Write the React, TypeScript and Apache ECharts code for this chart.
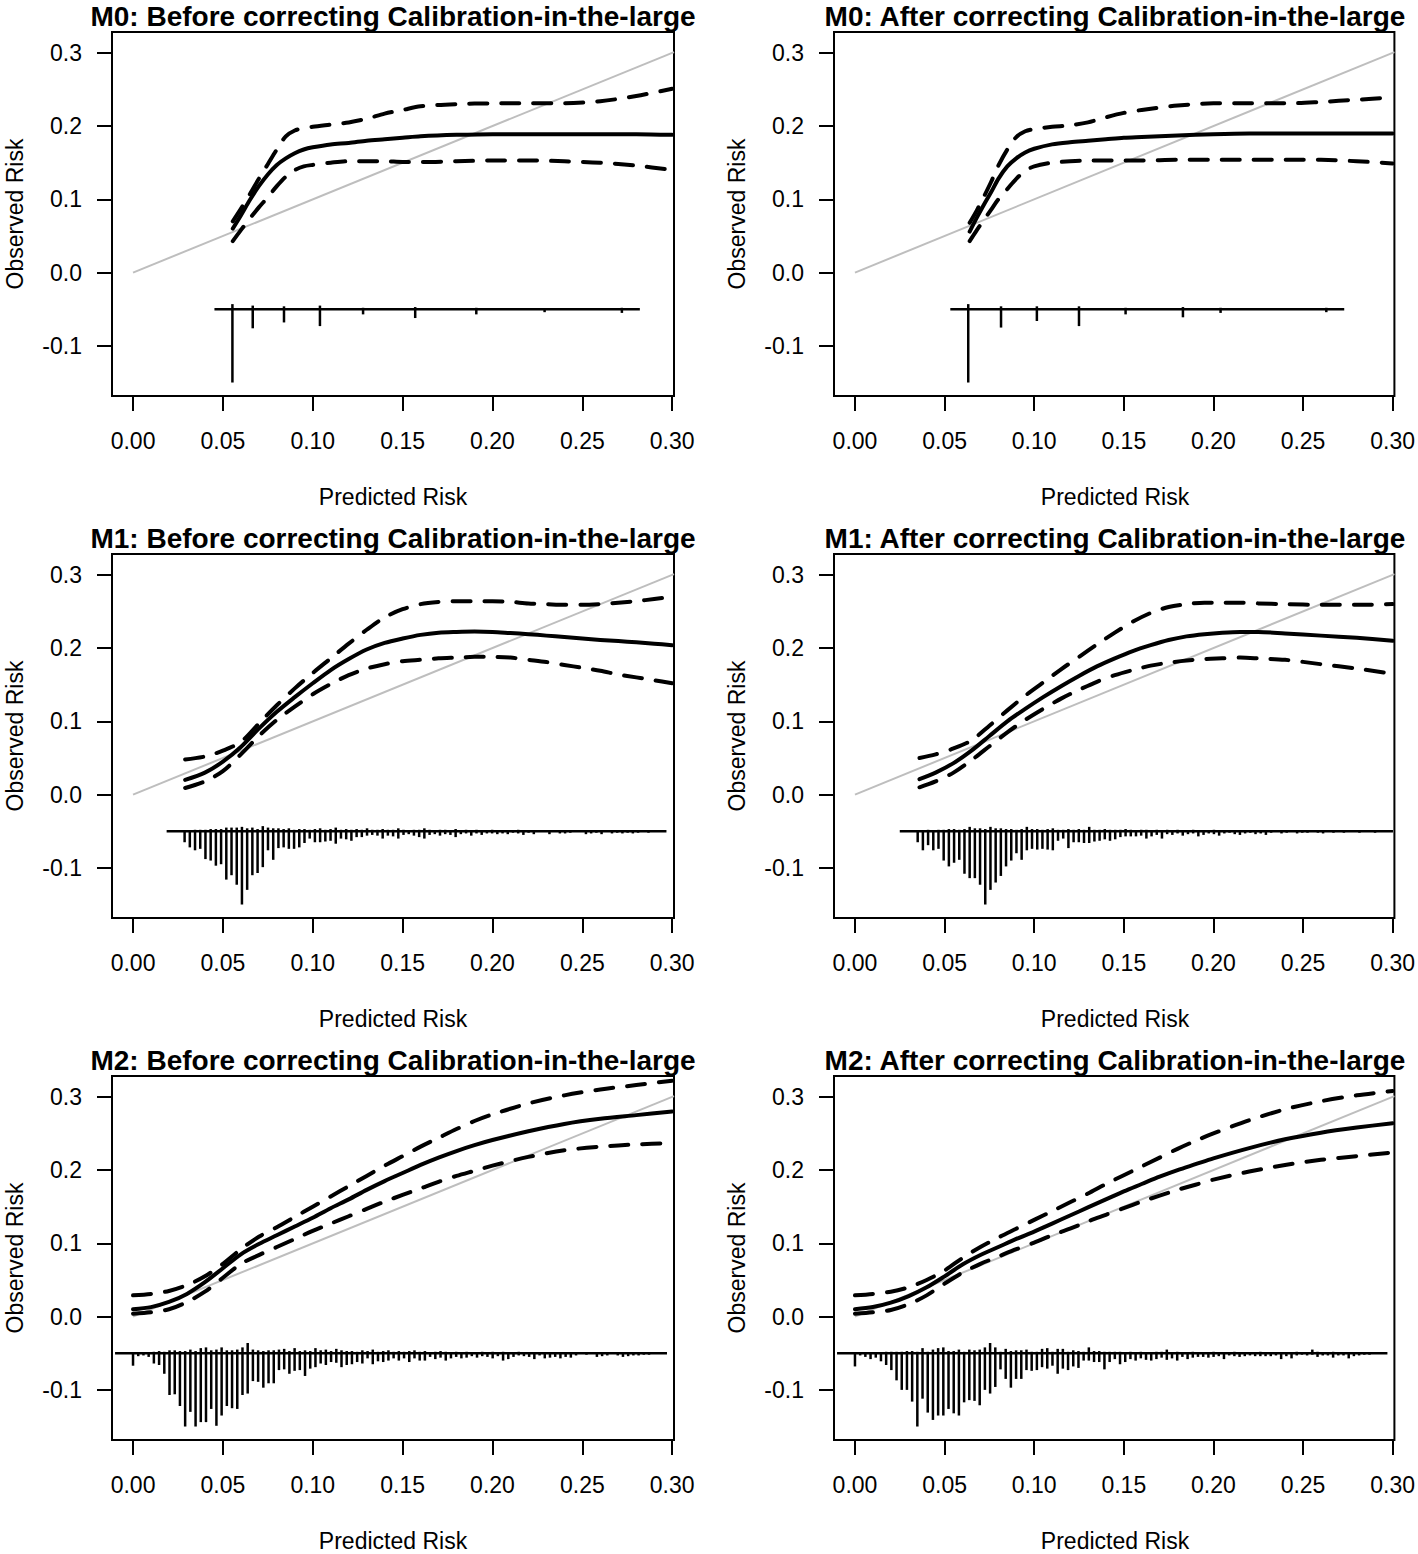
import React, { useEffect, useRef } from "react";
import * as echarts from "echarts";

const FONT = '"Liberation Sans", Arial, Helvetica, sans-serif';

// ---------- axes ----------
const X_TICKS = [0, 0.05, 0.1, 0.15, 0.2, 0.25, 0.3];
const Y_TICKS = [-0.1, 0, 0.1, 0.2, 0.3];
const X_MIN = -0.0117;
const X_MAX = 0.301;
const Y_MIN = -0.1684;
const Y_MAX = 0.3284;
const SPIKE_BASE = -0.05;
const SPIKE_MAX = 0.1;
const BIN_STEP = 0.0029;

const TITLES = [
  "M0: Before correcting Calibration-in-the-large",
  "M0: After correcting Calibration-in-the-large",
  "M1: Before correcting Calibration-in-the-large",
  "M1: After correcting Calibration-in-the-large",
  "M2: Before correcting Calibration-in-the-large",
  "M2: After correcting Calibration-in-the-large",
];
const X_NAME = "Predicted Risk";
const Y_NAME = "Observed Risk";
const IDEAL = [[0, 0], [0.301, 0.301]];

// ---------- M0 before ----------
const m0BeforeX = [0.0555, 0.06, 0.065, 0.07, 0.075, 0.08, 0.085, 0.09, 0.095, 0.1, 0.11, 0.12, 0.13, 0.14, 0.15, 0.16, 0.18, 0.2, 0.22, 0.24, 0.26, 0.28, 0.3];
const m0BeforeFit = [0.06, 0.078, 0.099, 0.118, 0.134, 0.147, 0.156, 0.163, 0.168, 0.171, 0.175, 0.177, 0.18, 0.182, 0.184, 0.186, 0.188, 0.189, 0.189, 0.189, 0.189, 0.189, 0.188];
const m0BeforeUpper = [0.07, 0.087, 0.107, 0.128, 0.148, 0.168, 0.186, 0.194, 0.197, 0.199, 0.202, 0.205, 0.21, 0.217, 0.222, 0.227, 0.23, 0.231, 0.231, 0.231, 0.234, 0.241, 0.251];
const m0BeforeLower = [0.043, 0.058, 0.074, 0.089, 0.103, 0.118, 0.131, 0.14, 0.145, 0.147, 0.15, 0.152, 0.152, 0.152, 0.151, 0.151, 0.152, 0.153, 0.153, 0.152, 0.15, 0.146, 0.14];
const m0BeforeSpikeX = [0.0553, 0.0666, 0.084, 0.104, 0.128, 0.157, 0.191, 0.229, 0.272];
const m0BeforeDown = [100, 26, 18, 23, 7, 12, 7, 4, 5];
const m0BeforeUp = [7, 5, 4, 5, 2, 3, 2, 1, 2];

// ---------- M0 after ----------
const m0AfterX = [0.064, 0.068, 0.072, 0.076, 0.08, 0.085, 0.09, 0.095, 0.1, 0.11, 0.12, 0.13, 0.14, 0.15, 0.16, 0.18, 0.2, 0.22, 0.24, 0.26, 0.28, 0.3];
const m0AfterFit = [0.056, 0.075, 0.093, 0.11, 0.128, 0.145, 0.156, 0.164, 0.169, 0.175, 0.178, 0.18, 0.182, 0.184, 0.185, 0.187, 0.189, 0.19, 0.19, 0.19, 0.19, 0.19];
const m0AfterUpper = [0.068, 0.085, 0.104, 0.124, 0.146, 0.168, 0.185, 0.193, 0.196, 0.199, 0.201, 0.205, 0.212, 0.218, 0.222, 0.228, 0.231, 0.231, 0.231, 0.233, 0.236, 0.239];
const m0AfterLower = [0.043, 0.058, 0.072, 0.086, 0.1, 0.114, 0.128, 0.139, 0.145, 0.15, 0.152, 0.153, 0.153, 0.153, 0.153, 0.154, 0.154, 0.154, 0.154, 0.154, 0.152, 0.149];
const m0AfterSpikeX = [0.0632, 0.0815, 0.1015, 0.125, 0.151, 0.183, 0.204, 0.263];
const m0AfterDown = [100, 25, 16, 23, 7, 11, 5, 4];
const m0AfterUp = [7, 4, 4, 4, 2, 3, 2, 2];

// ---------- M1 before ----------
const m1BeforeX = [0.029, 0.04, 0.05, 0.06, 0.07, 0.08, 0.09, 0.1, 0.11, 0.12, 0.13, 0.14, 0.15, 0.16, 0.17, 0.18, 0.19, 0.2, 0.21, 0.22, 0.23, 0.24, 0.25, 0.26, 0.27, 0.28, 0.29, 0.3];
const m1BeforeFit = [0.02, 0.03, 0.045, 0.065, 0.09, 0.113, 0.133, 0.152, 0.17, 0.185, 0.198, 0.207, 0.213, 0.218, 0.221, 0.222, 0.2225, 0.222, 0.2205, 0.219, 0.217, 0.215, 0.213, 0.211, 0.2095, 0.208, 0.206, 0.204];
const m1BeforeUpper = [0.048, 0.052, 0.06, 0.072, 0.097, 0.122, 0.145, 0.166, 0.186, 0.206, 0.225, 0.242, 0.253, 0.26, 0.263, 0.264, 0.264, 0.264, 0.263, 0.261, 0.26, 0.259, 0.259, 0.26, 0.262, 0.264, 0.267, 0.27];
const m1BeforeLower = [0.009, 0.018, 0.032, 0.055, 0.08, 0.102, 0.12, 0.137, 0.151, 0.163, 0.172, 0.178, 0.182, 0.184, 0.186, 0.187, 0.188, 0.188, 0.187, 0.184, 0.181, 0.177, 0.173, 0.169, 0.164, 0.16, 0.156, 0.152];
const m1BeforeFirstBin = 0.0287;
const m1BeforeDown = [15, 22, 26, 24, 38, 40, 47, 45, 66, 60, 73, 100, 80, 60, 57, 49, 26, 39, 23, 22, 24, 24, 22, 16, 10, 15, 15, 14, 13, 17, 10, 11, 13, 8, 8, 6, 5, 6, 10, 6, 7, 10,
  5, 4, 6, 8, 10, 5, 4, 6, 4, 5, 8, 4, 3, 6, 3, 5, 3, 3, 4, 3, 4, 2, 3, 5, 2, 4, 0, 0, 4, 0, 3, 3, 2, 0, 0, 4, 3, 2, 4, 0, 3, 2, 3, 2, 3, 2, 0, 2];
const m1BeforeUp = [0, 1, 2, 2, 2, 3, 3, 3, 5, 5, 5, 6, 4, 5, 3, 7, 5, 4, 4, 3, 4, 2, 3, 3, 2, 3, 4, 2, 3, 5, 2, 3, 2, 3, 2, 4, 2, 2, 3, 2, 2, 4, 2, 1, 2, 2, 4, 2, 1, 2, 2, 1, 3, 1, 2, 1, 2, 1, 1, 2, 1, 1, 0, 1, 2, 0, 1, 1, 0, 1, 0, 0, 1, 1, 0, 1, 1, 0, 1, 0, 1, 1, 0, 0, 1, 0, 1, 0, 0, 1];

// ---------- M1 after ----------
const m1AfterX = [0.036, 0.045, 0.055, 0.065, 0.075, 0.085, 0.095, 0.105, 0.115, 0.125, 0.135, 0.145, 0.155, 0.165, 0.175, 0.185, 0.195, 0.205, 0.215, 0.225, 0.24, 0.26, 0.28, 0.3];
const m1AfterFit = [0.021, 0.03, 0.043, 0.06, 0.08, 0.1, 0.117, 0.133, 0.148, 0.162, 0.175, 0.186, 0.196, 0.204, 0.211, 0.216, 0.219, 0.221, 0.222, 0.222, 0.22, 0.217, 0.214, 0.21];
const m1AfterUpper = [0.05, 0.055, 0.063, 0.074, 0.094, 0.115, 0.135, 0.153, 0.171, 0.188, 0.205, 0.221, 0.236, 0.248, 0.256, 0.26, 0.262, 0.262, 0.262, 0.261, 0.26, 0.259, 0.259, 0.26];
const m1AfterLower = [0.01, 0.018, 0.03, 0.047, 0.066, 0.085, 0.102, 0.117, 0.131, 0.143, 0.154, 0.163, 0.17, 0.176, 0.18, 0.183, 0.185, 0.186, 0.187, 0.186, 0.184, 0.178, 0.172, 0.165];
const m1AfterFirstBin = 0.035;
const m1AfterDown = [15, 26, 19, 26, 24, 40, 48, 43, 39, 58, 64, 64, 73, 100, 80, 70, 61, 48, 40, 30, 39, 26, 24, 25, 24, 25, 26, 13, 10, 23, 15, 15, 16, 16, 14, 13, 11, 13, 11, 8, 7, 7, 7, 6, 10, 7, 5, 10,
  4, 5, 3, 6, 4, 3, 7, 5, 3, 4, 6, 3, 2, 4, 5, 3, 2, 4, 3, 5, 2, 0, 3, 2, 0, 3, 2, 2, 0, 2, 3, 0, 2, 0, 2, 0, 0, 2, 0, 0, 2];
const m1AfterUp = [0, 1, 2, 1, 2, 2, 3, 3, 2, 3, 6, 4, 4, 3, 6, 4, 4, 3, 3, 2, 3, 6, 3, 3, 2, 3, 4, 2, 2, 3, 2, 3, 2, 6, 2, 2, 3, 2, 2, 2, 3, 2, 1, 2, 2, 1, 2, 1, 2, 1, 2, 1, 1, 2, 1, 1, 1, 2, 0, 1, 1, 1, 0, 1, 1, 0, 1, 1, 0, 1, 0, 1, 0, 1, 1, 0, 1, 0, 0, 1, 0, 1, 0, 0, 1, 0, 0, 1, 0];

// ---------- M2 before ----------
const m2X = [0, 0.01, 0.02, 0.03, 0.04, 0.05, 0.06, 0.07, 0.08, 0.09, 0.1, 0.11, 0.12, 0.13, 0.14, 0.15, 0.16, 0.17, 0.18, 0.19, 0.2, 0.22, 0.24, 0.26, 0.28, 0.3];
const m2BeforeFit = [0.01, 0.013, 0.02, 0.031, 0.047, 0.066, 0.085, 0.099, 0.111, 0.123, 0.135, 0.148, 0.16, 0.173, 0.185, 0.196, 0.207, 0.217, 0.226, 0.234, 0.241, 0.253, 0.263, 0.27, 0.275, 0.28];
const m2BeforeUpper = [0.029, 0.031, 0.035, 0.043, 0.055, 0.072, 0.092, 0.109, 0.122, 0.136, 0.15, 0.164, 0.178, 0.192, 0.206, 0.219, 0.232, 0.244, 0.256, 0.267, 0.276, 0.291, 0.302, 0.31, 0.316, 0.322];
const m2BeforeLower = [0.004, 0.006, 0.01, 0.02, 0.034, 0.053, 0.072, 0.084, 0.095, 0.106, 0.117, 0.127, 0.137, 0.147, 0.157, 0.166, 0.175, 0.184, 0.192, 0.199, 0.206, 0.218, 0.227, 0.232, 0.235, 0.237];
const m2BeforeFirstBin = 0.0;
const m2BeforeDown = [17, 4, 3, 5, 14, 16, 28, 57, 56, 72, 100, 80, 100, 94, 94, 76, 99, 85, 72, 75, 76, 57, 55, 38, 39, 47, 41, 41, 23, 22, 28, 24, 23, 31, 21, 19, 14, 16, 12, 13, 19, 16, 15, 12, 14, 7, 15, 11, 12, 10, 7, 10, 7, 12, 7, 10, 10, 5, 8, 6, 10, 7,
  5, 7, 6, 4, 6, 4, 5, 7, 4, 10, 8, 5, 3, 4, 5, 8, 3, 7, 6, 5, 7, 5, 6, 3, 0, 2, 0, 5, 4, 3, 0, 3, 5, 4, 3, 3, 2, 2];
const m2BeforeUp = [0, 0, 0, 0, 2, 3, 2, 4, 4, 3, 3, 5, 3, 7, 8, 4, 5, 8, 4, 4, 5, 8, 14, 5, 4, 3, 4, 4, 5, 6, 3, 7, 3, 4, 3, 7, 4, 5, 3, 6, 4, 3, 3, 2, 4, 3, 5, 2, 3, 4, 2, 3, 2, 3, 4, 2, 3, 1, 2, 3, 2, 1, 2, 1, 2, 1, 1, 2, 1, 2, 1, 2, 1, 1, 2, 1, 1, 0, 1, 1, 0, 1, 0, 1, 1, 0, 1, 1, 0, 1, 0, 1, 1, 0, 0, 1, 1, 0, 0, 0];

// ---------- M2 after ----------
const m2AfterFit = [0.01, 0.013, 0.019, 0.028, 0.04, 0.055, 0.071, 0.084, 0.095, 0.106, 0.116, 0.127, 0.138, 0.149, 0.16, 0.171, 0.181, 0.191, 0.2, 0.208, 0.216, 0.23, 0.242, 0.251, 0.258, 0.264];
const m2AfterUpper = [0.029, 0.031, 0.034, 0.04, 0.05, 0.063, 0.08, 0.095, 0.108, 0.12, 0.132, 0.144, 0.156, 0.168, 0.181, 0.193, 0.205, 0.217, 0.229, 0.24, 0.25, 0.268, 0.283, 0.294, 0.302, 0.308];
const m2AfterLower = [0.004, 0.006, 0.009, 0.017, 0.029, 0.045, 0.06, 0.072, 0.082, 0.092, 0.101, 0.111, 0.12, 0.13, 0.139, 0.148, 0.157, 0.165, 0.173, 0.18, 0.187, 0.198, 0.207, 0.214, 0.219, 0.224];
const m2AfterFirstBin = 0.0;
const m2AfterDown = [18, 3, 5, 8, 6, 11, 16, 23, 37, 50, 50, 66, 100, 62, 81, 91, 85, 85, 76, 82, 85, 67, 64, 65, 71, 50, 55, 46, 22, 35, 47, 35, 35, 23, 24, 23, 19, 21, 17, 28, 21, 23, 18, 20, 10, 10, 12, 12, 22, 12, 8, 15, 12,
  8, 10, 7, 9, 10, 8, 6, 9, 7, 10, 5, 8, 6, 5, 5, 6, 5, 4, 8, 3, 4, 5, 4, 3, 4, 4, 4, 4, 3, 8, 4, 7, 3, 2, 3, 2, 5, 3, 3, 6, 3, 3, 7, 4, 3, 2, 2];
const m2AfterUp = [0, 0, 1, 1, 1, 1, 2, 2, 2, 2, 3, 3, 2, 7, 2, 5, 7, 8, 3, 3, 5, 2, 5, 4, 5, 8, 14, 8, 2, 6, 3, 4, 4, 5, 2, 2, 6, 7, 2, 6, 6, 2, 4, 3, 2, 8, 3, 3, 2, 2, 2, 2, 1, 2, 1, 2, 1, 1, 2, 2, 5, 1, 2, 1, 1, 2, 1, 1, 1, 2, 1, 1, 1, 2, 1, 1, 1, 1, 2, 1, 1, 1, 1, 1, 1, 2, 1, 1, 5, 2, 1, 1, 2, 1, 1, 1, 1, 0, 1, 1];

// ---------- layout ----------
const BOX_LEFT = [112, 834];
const BOX_TOP = [32, 554, 1076];
const BOX_W = 562;
const BOX_H = 364;

function bins(first: number, n: number): number[] {
  const out: number[] = [];
  for (let i = 0; i < n; i++) out.push(first + i * BIN_STEP);
  return out;
}

function pairs(xs: number[], ys: number[]) {
  return xs.map((x, i) => [x, ys[i]]);
}

type Panel = {
  x: number[];
  fit: number[];
  upper: number[];
  lower: number[];
  sx: number[];
  down: number[];
  up: number[];
};

const PANELS: Panel[] = [
  { x: m0BeforeX, fit: m0BeforeFit, upper: m0BeforeUpper, lower: m0BeforeLower, sx: m0BeforeSpikeX, down: m0BeforeDown, up: m0BeforeUp },
  { x: m0AfterX, fit: m0AfterFit, upper: m0AfterUpper, lower: m0AfterLower, sx: m0AfterSpikeX, down: m0AfterDown, up: m0AfterUp },
  { x: m1BeforeX, fit: m1BeforeFit, upper: m1BeforeUpper, lower: m1BeforeLower, sx: bins(m1BeforeFirstBin, m1BeforeDown.length), down: m1BeforeDown, up: m1BeforeUp },
  { x: m1AfterX, fit: m1AfterFit, upper: m1AfterUpper, lower: m1AfterLower, sx: bins(m1AfterFirstBin, m1AfterDown.length), down: m1AfterDown, up: m1AfterUp },
  { x: m2X, fit: m2BeforeFit, upper: m2BeforeUpper, lower: m2BeforeLower, sx: bins(m2BeforeFirstBin, m2BeforeDown.length), down: m2BeforeDown, up: m2BeforeUp },
  { x: m2X, fit: m2AfterFit, upper: m2AfterUpper, lower: m2AfterLower, sx: bins(m2AfterFirstBin, m2AfterDown.length), down: m2AfterDown, up: m2AfterUp },
];

function buildOption() {
  const grid: any[] = [];
  const xAxis: any[] = [];
  const yAxis: any[] = [];
  const series: any[] = [];
  const graphic: any[] = [];

  PANELS.forEach((p, i) => {
    const row = Math.floor(i / 2);
    const col = i % 2;
    const left = BOX_LEFT[col];
    const top = BOX_TOP[row];
    grid.push({
      left, top, width: BOX_W, height: BOX_H,
      show: true, borderColor: "#000", borderWidth: 2, backgroundColor: "transparent",
      containLabel: false,
    });
    xAxis.push({
      gridIndex: i, type: "value", min: X_MIN, max: X_MAX, position: "bottom",
      axisLine: { show: false, onZero: false },
      splitLine: { show: false },
      axisTick: { show: true, inside: false, length: 15, lineStyle: { color: "#000", width: 2 }, customValues: X_TICKS },
      axisLabel: {
        show: true, customValues: X_TICKS, formatter: (v: number) => v.toFixed(2),
        fontSize: 23, fontFamily: FONT, color: "#000", margin: 33,
      },
    });
    yAxis.push({
      gridIndex: i, type: "value", min: Y_MIN, max: Y_MAX, position: "left",
      axisLine: { show: false, onZero: false },
      splitLine: { show: false },
      axisTick: { show: true, inside: false, length: 15, lineStyle: { color: "#000", width: 2 }, customValues: Y_TICKS },
      axisLabel: {
        show: true, customValues: Y_TICKS, formatter: (v: number) => v.toFixed(1),
        fontSize: 23, fontFamily: FONT, color: "#000", margin: 30,
      },
    });

    series.push({
      type: "line", xAxisIndex: i, yAxisIndex: i, data: IDEAL, symbol: "none", silent: true,
      lineStyle: { color: "#bebebe", width: 2 }, z: 1,
    });
    series.push({
      type: "line", xAxisIndex: i, yAxisIndex: i, data: pairs(p.x, p.fit), symbol: "none", smooth: 0.3, silent: true,
      lineStyle: { color: "#000", width: 4, cap: "round", join: "round" }, z: 3,
    });
    [p.upper, p.lower].forEach((arr) => {
      series.push({
        type: "line", xAxisIndex: i, yAxisIndex: i, data: pairs(p.x, arr), symbol: "none", smooth: 0.3, silent: true,
        lineStyle: { color: "#000", width: 4, type: [18, 14], cap: "round", join: "round" }, z: 3,
      });
    });
    const spikeData = p.sx.map((x, k) => [x, (SPIKE_MAX * (p.up[k] ?? 0)) / 100, (SPIKE_MAX * (p.down[k] ?? 0)) / 100]);
    series.push({
      type: "custom", xAxisIndex: i, yAxisIndex: i, data: spikeData, silent: true, z: 4,
      encode: { x: 0, y: 1 },
      renderItem: (params: any, api: any) => {
        const x = api.value(0);
        const up = api.value(1);
        const down = api.value(2);
        if (up === 0 && down === 0) return null;
        const a = api.coord([x, SPIKE_BASE + up]);
        const b = api.coord([x, SPIKE_BASE - down]);
        return {
          type: "line",
          shape: { x1: a[0], y1: a[1], x2: b[0], y2: b[1] },
          style: { stroke: "#000", lineWidth: 2.5 },
        };
      },
    });
    const minX = Math.min(...p.sx);
    const maxX = Math.max(...p.sx);
    series.push({
      type: "line", xAxisIndex: i, yAxisIndex: i,
      data: [[minX - 0.01, SPIKE_BASE], [maxX + 0.01, SPIKE_BASE]],
      symbol: "none", silent: true, lineStyle: { color: "#000", width: 2.5 }, z: 4,
    });

    const cx = left + BOX_W / 2;
    graphic.push({
      type: "text", x: cx, y: top - 16,
      style: { text: TITLES[i], fontSize: 28, fontWeight: "bold", fontFamily: FONT, fill: "#000", align: "center", verticalAlign: "middle", textAlign: "center", textVerticalAlign: "middle" },
    });
    graphic.push({
      type: "text", x: cx, y: top + BOX_H + 101,
      style: { text: X_NAME, fontSize: 23, fontFamily: FONT, fill: "#000", align: "center", verticalAlign: "middle", textAlign: "center", textVerticalAlign: "middle" },
    });
    graphic.push({
      type: "text", x: left - 97, y: top + BOX_H / 2, rotation: Math.PI / 2,
      style: { text: Y_NAME, fontSize: 23, fontFamily: FONT, fill: "#000", align: "center", verticalAlign: "middle", textAlign: "center", textVerticalAlign: "middle" },
    });
  });

  return { animation: false, backgroundColor: "#fff", grid, xAxis, yAxis, series, graphic };
}

export default function App() {
  const ref = useRef<HTMLDivElement>(null);
  useEffect(() => {
    if (!ref.current) return;
    const chart = echarts.init(ref.current, undefined, { renderer: "svg" });
    chart.setOption(buildOption() as any);
    return () => chart.dispose();
  }, []);
  return (
    <div
      ref={ref}
      style={{ position: "absolute", left: 0, top: 0, width: 1418, height: 1554, background: "#fff" }}
    />
  );
}
